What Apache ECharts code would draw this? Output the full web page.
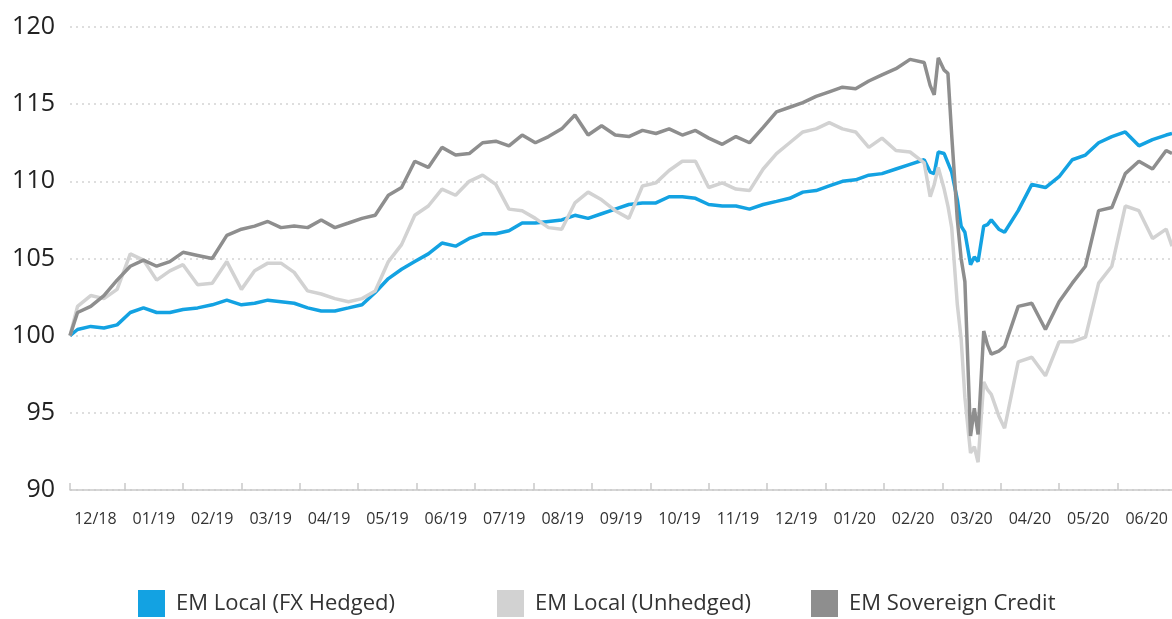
<!DOCTYPE html>
<html>
<head>
<meta charset="utf-8">
<script src="https://cdn.jsdelivr.net/npm/echarts@6/dist/echarts.min.js"></script>
<style>
  html, body { margin: 0; padding: 0; background: #ffffff; }
  #chart { width: 1172px; height: 619px; }
</style>
</head>
<body>
<div id="chart"></div>
<script>
// Index levels, rebased to 100 on 3 Dec 2018
const dates = [
  '2018-12-03','2018-12-07','2018-12-14','2018-12-21','2018-12-28',
  '2019-01-04','2019-01-11','2019-01-18','2019-01-25',
  '2019-02-01','2019-02-08','2019-02-15','2019-02-22',
  '2019-03-01','2019-03-08','2019-03-15','2019-03-22','2019-03-29',
  '2019-04-05','2019-04-12','2019-04-19','2019-04-26',
  '2019-05-03','2019-05-10','2019-05-17','2019-05-24','2019-05-31',
  '2019-06-07','2019-06-14','2019-06-21','2019-06-28',
  '2019-07-05','2019-07-12','2019-07-19','2019-07-26',
  '2019-08-02','2019-08-09','2019-08-16','2019-08-23','2019-08-30',
  '2019-09-06','2019-09-13','2019-09-20','2019-09-27',
  '2019-10-04','2019-10-11','2019-10-18','2019-10-25',
  '2019-11-01','2019-11-08','2019-11-15','2019-11-22','2019-11-29',
  '2019-12-06','2019-12-13','2019-12-20','2019-12-27',
  '2020-01-03','2020-01-10','2020-01-17','2020-01-24','2020-01-31',
  '2020-02-07','2020-02-14','2020-02-21','2020-02-24','2020-02-26','2020-02-28',
  '2020-03-02','2020-03-04','2020-03-06','2020-03-09','2020-03-11','2020-03-13',
  '2020-03-16','2020-03-18','2020-03-20','2020-03-23','2020-03-25','2020-03-27','2020-03-31',
  '2020-04-03','2020-04-10','2020-04-17','2020-04-24',
  '2020-05-01','2020-05-08','2020-05-15','2020-05-22','2020-05-29',
  '2020-06-05','2020-06-12','2020-06-19','2020-06-26','2020-06-29'
];

const emLocalHedged = [
  100.0, 100.4, 100.6, 100.5, 100.7,
  101.5, 101.8, 101.5, 101.5,
  101.7, 101.8, 102.0, 102.3,
  102.0, 102.1, 102.3, 102.2, 102.1,
  101.8, 101.6, 101.6, 101.8,
  102.0, 102.8, 103.7, 104.3, 104.8,
  105.3, 106.0, 105.8, 106.3,
  106.6, 106.6, 106.8, 107.3,
  107.3, 107.4, 107.5, 107.8, 107.6,
  107.9, 108.2, 108.5, 108.6,
  108.6, 109.0, 109.0, 108.9,
  108.5, 108.4, 108.4, 108.2, 108.5,
  108.7, 108.9, 109.3, 109.4,
  109.7, 110.0, 110.1, 110.4, 110.5,
  110.8, 111.1, 111.4, 110.6, 110.5, 111.9,
  111.8, 111.2, 110.6, 108.8, 107.1, 106.7,
  104.6, 105.1, 104.8, 107.1, 107.2, 107.5, 106.9,
  106.7, 108.1, 109.8, 109.6,
  110.3, 111.4, 111.7, 112.5, 112.9,
  113.2, 112.3, 112.7, 113.0, 113.1
];

const emLocalUnhedged = [
  100.0, 101.9, 102.6, 102.4, 103.0,
  105.3, 104.9, 103.6, 104.2,
  104.6, 103.3, 103.4, 104.8,
  103.0, 104.2, 104.7, 104.7, 104.1,
  102.9, 102.7, 102.4, 102.2,
  102.4, 102.9, 104.8, 105.9, 107.8,
  108.4, 109.5, 109.1, 110.0,
  110.4, 109.8, 108.2, 108.1,
  107.6, 107.0, 106.9, 108.6, 109.3,
  108.8, 108.1, 107.6, 109.7,
  109.9, 110.7, 111.3, 111.3,
  109.6, 109.9, 109.5, 109.4, 110.8,
  111.8, 112.5, 113.2, 113.4,
  113.8, 113.4, 113.2, 112.2, 112.8,
  112.0, 111.9, 111.2, 109.0, 109.8, 110.9,
  109.5, 108.4, 107.0, 102.0, 99.8, 96.0,
  92.4, 92.8, 91.8, 97.0, 96.5, 96.2, 94.8,
  94.0, 98.3, 98.6, 97.4,
  99.6, 99.6, 99.9, 103.4, 104.5,
  108.4, 108.1, 106.3, 106.9, 105.8
];

const emSovereignCredit = [
  100.0, 101.5, 101.9, 102.6, 103.6,
  104.5, 104.9, 104.5, 104.8,
  105.4, 105.2, 105.0, 106.5,
  106.9, 107.1, 107.4, 107.0, 107.1,
  107.0, 107.5, 107.0, 107.3,
  107.6, 107.8, 109.1, 109.6, 111.3,
  110.9, 112.2, 111.7, 111.8,
  112.5, 112.6, 112.3, 113.0,
  112.5, 112.9, 113.4, 114.3, 113.0,
  113.6, 113.0, 112.9, 113.3,
  113.1, 113.4, 113.0, 113.3,
  112.8, 112.4, 112.9, 112.5, 113.5,
  114.5, 114.8, 115.1, 115.5,
  115.8, 116.1, 116.0, 116.5, 116.9,
  117.3, 117.9, 117.7, 116.2, 115.6, 118.0,
  117.2, 117.0, 113.0, 107.5, 105.0, 103.5,
  93.5, 95.3, 93.6, 100.3, 99.4, 98.8, 99.0,
  99.3, 101.9, 102.1, 100.4,
  102.2, 103.4, 104.5, 108.1, 108.3,
  110.5, 111.3, 110.8, 112.0, 111.8
];

const monthLabels = [
  '12/18','01/19','02/19','03/19','04/19','05/19','06/19','07/19','08/19','09/19',
  '10/19','11/19','12/19','01/20','02/20','03/20','04/20','05/20','06/20'
];

const seriesNames = ['EM Local (FX Hedged)', 'EM Local (Unhedged)', 'EM Sovereign Credit'];
const seriesColors = ['#13a2e2', '#d2d2d2', '#8e8e8e'];

// Month scale: 0 = 1 Dec 2018, 1 = 1 Jan 2019, ... each month has equal width
function monthPos(s) {
  const [y, m, d] = s.split('-').map(Number);
  const days = new Date(y, m, 0).getDate();
  return (y - 2018) * 12 + (m - 12) + (d - 1) / days;
}

const xMin = monthPos(dates[0]);
const xMax = monthPos(dates[dates.length - 1]);
const monthTicks = [xMin];
for (let i = 1; i < monthLabels.length; i++) monthTicks.push(i);
const labelPositions = monthLabels.map((_, i) => i + 0.5);

function pairs(values) {
  return values.map((v, i) => [monthPos(dates[i]), v]);
}

const chart = echarts.init(document.getElementById('chart'), null, { renderer: 'canvas' });

const legendBase = {
  orient: 'horizontal',
  top: 585,
  itemWidth: 27,
  itemHeight: 27,
  itemGap: 0,
  icon: 'rect',
  textStyle: { fontFamily: 'Open Sans', fontSize: 22, color: '#333333', padding: [0, 0, 0, 6] }
};

chart.setOption({
  animation: false,
  backgroundColor: '#ffffff',
  grid: { left: 70, right: 0, top: 27, bottom: 129, containLabel: false },
  legend: [
    Object.assign({}, legendBase, { left: 133, data: [seriesNames[0]] }),
    Object.assign({}, legendBase, { left: 492, data: [seriesNames[1]] }),
    Object.assign({}, legendBase, { left: 806, data: [seriesNames[2]] })
  ],
  xAxis: {
    type: 'value',
    min: xMin,
    max: xMax,
    axisLine: { show: true, lineStyle: { color: '#c9c9c9', width: 1.5 } },
    axisTick: {
      show: true,
      inside: true,
      length: 7,
      customValues: monthTicks,
      lineStyle: { color: '#c9c9c9', width: 1.5 }
    },
    axisLabel: {
      customValues: labelPositions,
      formatter: v => monthLabels[Math.floor(v)] || '',
      margin: 21,
      fontFamily: 'Open Sans',
      fontSize: 16,
      color: '#333333'
    },
    splitLine: { show: false }
  },
  yAxis: {
    type: 'value',
    min: 90,
    max: 120,
    interval: 5,
    axisLine: { show: false },
    axisTick: { show: false },
    axisLabel: {
      margin: 15,
      fontFamily: 'Open Sans',
      fontSize: 25,
      color: '#222222'
    },
    splitLine: {
      show: true,
      lineStyle: { color: '#d4d4d4', width: 1.5, type: [2, 4] }
    }
  },
  series: [
    { name: seriesNames[0], data: pairs(emLocalHedged) },
    { name: seriesNames[1], data: pairs(emLocalUnhedged) },
    { name: seriesNames[2], data: pairs(emSovereignCredit) }
  ].map((s, i) => Object.assign({
    type: 'line',
    showSymbol: false,
    symbol: 'none',
    smooth: false,
    z: 2 + i,
    color: seriesColors[i],
    lineStyle: { color: seriesColors[i], width: 3.5 }
  }, s))
});
</script>
</body>
</html>
